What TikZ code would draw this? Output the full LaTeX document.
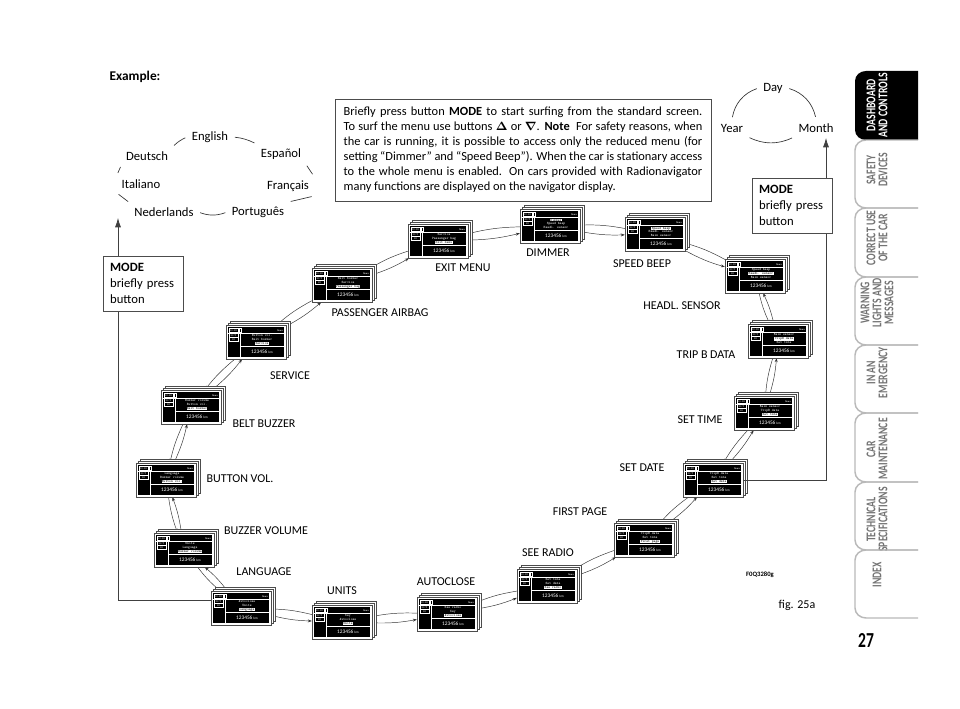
\documentclass[tikz,border=0pt]{standalone}
\usepackage{fontspec}
\usepackage{amsmath}
\setmainfont{Carlito}
\newfontfamily\tabfont[FakeStretch=0.73]{Carlito}
\usepackage{tikz}
\usetikzlibrary{positioning, arrows.meta, backgrounds, calc}

\newcommand\hl[1]{{\setlength\fboxsep{0.25pt}\colorbox{white}{\textcolor{black}{#1}}}}
\newcommand\jline[1]{\makebox[269pt][s]{#1}}

\tikzset{
  scrback/.style={draw=gray!60!black, fill=white, line width=0.3pt},
  scrbox/.style={draw=gray!60!black, fill=white, line width=0.3pt, minimum width=45pt, minimum height=25.5pt, inner sep=0pt},
  scrline/.style={draw=white, line width=0.2pt},
  scrtiny/.style={text=white, font=\fontsize{2}{2.4}\selectfont\ttfamily, inner sep=0pt},
  scrmenu/.style={text=white, font=\fontsize{2.6}{2.9}\selectfont\ttfamily, align=center, inner sep=0pt},
  scrkm/.style={text=white, font=\fontsize{4}{4}\selectfont, inner sep=0pt},
  link/.style={draw=black!80, line width=0.35pt, -{Stealth[length=3pt,width=2.2pt]}},
  lbl/.style={font=\fontsize{9}{10}\selectfont, inner sep=1pt},
  cyc/.style={draw=black!80, line width=0.5pt, shorten <=1.5pt, shorten >=1.5pt},
  cycword/.style={font=\fontsize{9.5}{10}\selectfont},
  modebox/.style={draw=black!70, fill=white, line width=0.5pt, text width=50pt, inner xsep=5pt, inner ysep=3pt, minimum height=41.25pt, align=left, font=\fontsize{9.5}{12}\selectfont},
  modeline/.style={draw=black!75, line width=0.5pt, -{Latex[length=7pt,width=4.5pt]}},
  tabline/.style={draw=gray!55, line width=1.1pt},
  tabtext/.style={rotate=90, anchor=east, align=center, inner sep=0pt, font=\tabfont\bfseries\fontsize{10}{9}\selectfont}
}

% one display with its stack behind
\newcommand\menuscreen[3]{%
  \begin{scope}[shift={(#2)}]
    \draw[scrback] (-28,-15) rectangle (32,19);
    \draw[scrback] (-30,-17) rectangle (30,17);
    \node[scrbox] (#1) at (-2,-2) {};
    \begin{scope}[shift={(-2,-2)}]
      \fill (-28,-15) rectangle (28,15);
      \draw[scrline] (-27,9.5) rectangle (-18,14);
      \node[scrtiny] at (-22.5,11.75) {10:20};
      \draw[scrline] (-17,9.5) rectangle (-14.5,14);
      \node[scrtiny, anchor=east] at (27,11.75) {Menu};
      \draw[scrline] (-28,9) -- (28,9);
      \draw[scrline] (-27,5) rectangle (-18,8.5);
      \node[scrtiny] at (-22.5,6.75) {20°C};
      \draw[scrline] (-27,1) rectangle (-18,4.5);
      \node[scrtiny] at (-22.5,2.75) {1\,D};
      \draw[scrline] (-16,9) -- (-16,-15);
      \draw[scrline] (-16,-4.5) -- (28,-4.5);
      \node[scrmenu] at (6,2.3) {#3};
      \node[scrkm] at (6,-9.7) {123456 {\fontsize{2.5}{3}\selectfont km}};
    \end{scope}
  \end{scope}}

\begin{document}
\begin{tikzpicture}[x=0.75pt, y=0.75pt]
  \useasboundingbox (0,0) rectangle (960,709);

  \node[anchor=west, font=\bfseries\fontsize{10}{12}\selectfont] (example) at (105,632) {Example:};

  % Language cycle
  \node[cycword] (english) at (210,572) {English};
  \node[cycword] (deutsch) at (147,553) {Deutsch};
  \node[cycword] (espanol) at (281,555) {Español};
  \node[cycword] (italiano) at (141,525) {Italiano};
  \node[cycword] (francais) at (288,523) {Français};
  \node[cycword] (nederlands) at (164,497) {Nederlands};
  \node[cycword] (portugues) at (258,497) {Português};
  \draw[cyc] (english.west) to[bend right=10] (deutsch.north east);
  \draw[cyc] (english.east) to[bend left=10] (espanol.north west);
  \draw[cyc] (deutsch.south west) -- (italiano.north west);
  \draw[cyc] (espanol.south east) -- (francais.north east);
  \draw[cyc] (italiano.south west) -- (nederlands.north west);
  \draw[cyc] (francais.south east) -- (portugues.north east);
  \draw[cyc] (nederlands.east) to[bend right=20] (portugues.west);

  % Date cycle
  \node[cycword] (day) at (773,621) {Day};
  \node[cycword] (year) at (732,581) {Year};
  \node[cycword] (month) at (816,581) {Month};
  \draw[cyc] (year.north) to[bend left=30] (day.west);
  \draw[cyc] (day.east) to[bend left=30] (month.north);
  \draw[cyc] (year.south east) to[bend right=25] (month.south west);

  % Note box
  \node[draw=black!70, line width=0.5pt, align=left, inner xsep=6.5pt, inner ysep=4pt, minimum height=76.5pt, font=\fontsize{9.3}{11.25}\selectfont] (note) at (523,559) {%
    \jline{Briefly press button \textbf{MODE} to start surfing from the standard screen.}\\
    \jline{To surf the menu use buttons $\boldsymbol{\Delta}$ or $\boldsymbol{\nabla}$. \textbf{Note}\ \ For safety reasons, when}\\
    \jline{the car is running, it is possible to access only the reduced menu (for}\\
    \jline{setting “Dimmer” and “Speed Beep”). When the car is stationary access}\\
    \jline{to the whole menu is enabled. On cars provided with Radionavigator}\\
    \makebox[269pt][l]{many functions are displayed on the navigator display.}};

  % Screens
  \menuscreen{language}{243,103}{Autoclose\\Units\\\hl{Language}}
  \menuscreen{units}{344,89}{Key\\Autoclose\\\hl{Units}}
  \menuscreen{autoclose}{449,97}{See radio\\Key\\\hl{Autoclose}}
  \menuscreen{seeradio}{549,125}{Set time\\Set date\\\hl{See radio}}
  \menuscreen{firstpage}{646,171}{TripB data\\Set time\\\hl{First page}}
  \menuscreen{setdate}{715,231}{TripB data\\Set time\\\hl{Set date}}
  \menuscreen{settime}{766,298}{Rain sensor\\TripB data\\\hl{Set time}}
  \menuscreen{tripb}{780,370}{Rain sensor\\\hl{TripB data}\\Set time}
  \menuscreen{headl}{757,435}{Speed beep\\\hl{Headl. sensor}\\Rain sensor}
  \menuscreen{speedbeep}{657,477}{\hl{Speed beep}\\Headl. sensor\\Rain sensor}
  \menuscreen{dimmer}{552,485}{\hl{Dimmer}\\Speed beep\\Headl. sensor}
  \menuscreen{exitmenu}{440,470}{Service\\Passenger bag\\\hl{Exit menu}}
  \menuscreen{airbag}{344,426}{Belt buzzer\\Service\\\hl{Passenger bag}}
  \menuscreen{service}{258,369}{Button vol.\\Belt buzzer\\\hl{Service}}
  \menuscreen{beltbuzzer}{193,304}{Buzzer volume\\Button vol.\\\hl{Belt buzzer}}
  \menuscreen{buttonvol}{168,231}{Language\\Buzzer volume\\\hl{Button vol.}}
  \menuscreen{buzzervol}{186,161}{Units\\Language\\\hl{Buzzer volume}}

  % Screen labels
  \node[lbl] (languagelbl) at (264,137) {LANGUAGE};
  \node[lbl] (unitslbl) at (342,118) {UNITS};
  \node[lbl] (autocloselbl) at (446,127) {AUTOCLOSE};
  \node[lbl] (seeradiolbl) at (548,156) {SEE RADIO};
  \node[lbl] (firstpagelbl) at (580,197) {FIRST PAGE};
  \node[lbl] (setdatelbl) at (642,241) {SET DATE};
  \node[lbl] (settimelbl) at (700,289) {SET TIME};
  \node[lbl] (tripblbl) at (706,354) {TRIP B DATA};
  \node[lbl] (headllbl) at (682,403) {HEADL. SENSOR};
  \node[lbl] (speedbeeplbl) at (642,445) {SPEED BEEP};
  \node[lbl] (dimmerlbl) at (548,456) {DIMMER};
  \node[lbl] (exitmenulbl) at (463,441) {EXIT MENU};
  \node[lbl] (airbaglbl) at (380,396) {PASSENGER AIRBAG};
  \node[lbl] (servicelbl) at (290,333) {SERVICE};
  \node[lbl] (beltbuzzerlbl) at (264,285) {BELT BUZZER};
  \node[lbl] (buttonvollbl) at (240,230) {BUTTON VOL.};
  \node[lbl] (buzzervollbl) at (266,178) {BUZZER VOLUME};

  % Links round the menu
  \begin{scope}[on background layer]
    \foreach \a/\b in {language/units, units/autoclose, autoclose/seeradio, seeradio/firstpage, firstpage/setdate, setdate/settime, settime/tripb, tripb/headl, headl/speedbeep, speedbeep/dimmer, dimmer/exitmenu, exitmenu/airbag, airbag/service, service/beltbuzzer, beltbuzzer/buttonvol, buttonvol/buzzervol, buzzervol/language}
    {
      \draw[link] (\a) to[bend right=6] (\b);
      \draw[link] (\b) to[bend right=6] (\a);
    }
  \end{scope}

  % MODE buttons
  \coordinate (langtip) at (118,491);
  \coordinate (datetip) at (826,571);
  \draw[modeline] ([yshift=6pt]language.west) -| (langtip);
  \draw[modeline] (setdate.east) -| (datetip);
  \node[modebox] (modeleft) at (143.5,425.5) {\textbf{MODE}\\briefly press\\button};
  \node[modebox] (moderight) at (792.5,503.5) {\textbf{MODE}\\briefly press\\button};

  \node[font=\bfseries\fontsize{5}{6}\selectfont] (code) at (760,134) {F0Q3280g};
  \node[font=\fontsize{9}{10}\selectfont] (figno) at (797,104) {fig. 25a};

  % Side tabs
  \fill[black] (918,638) -- (866,638) to[out=180,in=90] (855,628) -- (855,579) to[out=-90,in=180] (866,569) -- (918,569) -- cycle;
  \node[tabtext, text=white] (tab636) at (877,636) {DASHBOARD\\AND CONTROLS};
  \foreach \ta/\tb/\ty/\tx in {569/501/556/{SAFETY\\DEVICES}, 501/432/499/{CORRECT USE\\OF THE CAR}, 432/364/431/{WARNING\\LIGHTS AND\\MESSAGES}, 364/296/362/{IN AN\\EMERGENCY}, 296/227/291/{CAR\\MAINTENANCE}, 227/159/222/{TECHNICAL\\SPECIFICATIONS}, 159/91/147/{INDEX}}
  {
    \draw[tabline] (918,\ta) -- (866,\ta) to[out=180,in=90] (855,\ta-10) -- (855,\tb+10) to[out=-90,in=180] (866,\tb) -- (918,\tb);
    \node[tabtext, text=black!55] (tab\ty) at (877,\ty) {\tx};
  }
  \node[font=\tabfont\bfseries\fontsize{16}{16}\selectfont] (pageno) at (866,68) {27};
\end{tikzpicture}
\end{document}
